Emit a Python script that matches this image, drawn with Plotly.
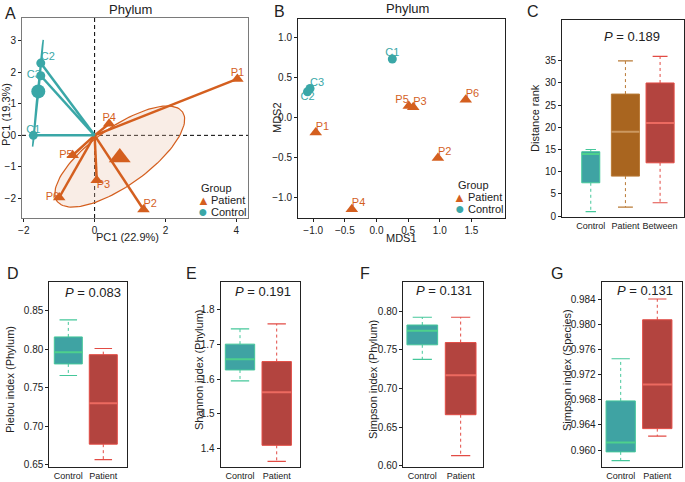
import numpy as np
import plotly.graph_objects as go

W, H = 685, 482
FONT = "Liberation Sans, Arial, sans-serif"
TEAL = "#3AA7A7"
ORANGE = "#D45F1F"

# ---------------- data ----------------
# Panel A (PCA)
pca_ctrl_labels = ["C1", "C2", "C3"]
pca_ctrl_x = [-1.73, -1.52, -1.52]
pca_ctrl_y = [0.0, 2.29, 1.89]
pca_pat_labels = ["P1", "P2", "P3", "P4", "P5", "P6"]
pca_pat_x = [4.03, 1.38, 0.06, 0.41, -0.62, -1.00]
pca_pat_y = [1.79, -2.35, -1.42, 0.37, -0.63, -1.97]

# Panel B (NMDS)
mds_ctrl_labels = ["C1", "C2", "C3"]
mds_ctrl_x = [0.25, -1.09, -1.05]
mds_ctrl_y = [0.73, 0.32, 0.36]
mds_pat_labels = ["P1", "P2", "P3", "P4", "P5", "P6"]
mds_pat_x = [-0.96, 0.97, 0.58, -0.39, 0.51, 1.41]
mds_pat_y = [-0.19, -0.51, 0.125, -1.15, 0.14, 0.22]

legend_groups = ["Patient", "Control"]

# Panel C (distance rank)
rank_groups = ["Control", "Patient", "Between"]
rank_lower = [1, 2, 3]
rank_q1 = [7.5, 9, 12]
rank_median = [14, 19, 21]
rank_q3 = [14.5, 27.5, 30]
rank_upper = [15, 35, 36]
rank_p = "0.189"

box_groups = ["Control", "Patient"]
# Panel D Pielou
pielou_lower = [0.766, 0.657]
pielou_q1 = [0.781, 0.677]
pielou_median = [0.796, 0.730]
pielou_q3 = [0.816, 0.793]
pielou_upper = [0.838, 0.801]
pielou_p = "0.083"
# Panel E Shannon
shannon_lower = [1.595, 1.364]
shannon_q1 = [1.626, 1.410]
shannon_median = [1.657, 1.562]
shannon_q3 = [1.700, 1.650]
shannon_upper = [1.744, 1.758]
shannon_p = "0.191"
# Panel F Simpson phylum
simp_lower = [0.7376, 0.613]
simp_q1 = [0.7564, 0.666]
simp_median = [0.7746, 0.717]
simp_q3 = [0.782, 0.7593]
simp_upper = [0.792, 0.792]
simp_p = "0.131"
# Panel G Simpson species
simps_lower = [0.9583, 0.9622]
simps_q1 = [0.9597, 0.9634]
simps_median = [0.9612, 0.9704]
simps_q3 = [0.9678, 0.9807]
simps_upper = [0.9745, 0.9840]
simps_p = "0.131"

# ---------------- helpers ----------------
def hdom(x0, x1):
    return [x0 / W, x1 / W]

def vdom(y0, y1):
    return [1 - y1 / H, 1 - y0 / H]

fig = go.Figure()

def axis_style(line="#222"):
    return dict(showline=True, mirror=True, linecolor=line, linewidth=1, automargin=False,
                ticks="outside", ticklen=3, tickcolor="#222", showgrid=False,
                zeroline=False, tickfont=dict(size=10, color="#222", family=FONT))

# ---------------- Panel A ----------------
SX, SY = 35.42, 31.55  # px per data unit (for ellipse aspect)

def ellipse(cx, cy, a, b, ang_deg, n=120):
    t = np.linspace(0, 2 * np.pi, n)
    th = np.deg2rad(ang_deg)
    px = a * np.cos(th) * np.cos(t) - b * np.sin(th) * np.sin(t)
    py = a * np.sin(th) * np.cos(t) + b * np.cos(th) * np.sin(t)
    return cx + px / SX, cy + py / SY

pcx, pcy = float(np.mean(pca_pat_x)), float(np.mean(pca_pat_y))
ccx, ccy = float(np.mean(pca_ctrl_x)), float(np.mean(pca_ctrl_y))

ex, ey = ellipse(pcx, pcy + 0.03, 77, 29, 35.5)
fig.add_trace(go.Scatter(x=ex, y=ey, mode="lines", fill="toself",
                         fillcolor="rgba(232,190,165,0.28)",
                         line=dict(color=ORANGE, width=1.2),
                         showlegend=False, hoverinfo="skip", xaxis="x", yaxis="y"))
cx_, cy_ = ellipse(ccx - 0.01, ccy - 0.06, 53.6, 0.6, 84.3)
fig.add_trace(go.Scatter(x=cx_, y=cy_, mode="lines",
                         line=dict(color=TEAL, width=1.5),
                         showlegend=False, hoverinfo="skip", xaxis="x", yaxis="y"))

def spokes(xs, ys):
    X, Y = [], []
    for a, b in zip(xs, ys):
        X += [0, a, None]
        Y += [0, b, None]
    return X, Y

sx, sy = spokes(pca_pat_x, pca_pat_y)
fig.add_trace(go.Scatter(x=sx, y=sy, mode="lines", line=dict(color=ORANGE, width=2.5),
                         showlegend=False, hoverinfo="skip", xaxis="x", yaxis="y"))
sx, sy = spokes(pca_ctrl_x, pca_ctrl_y)
fig.add_trace(go.Scatter(x=sx, y=sy, mode="lines", line=dict(color=TEAL, width=2.5),
                         showlegend=False, hoverinfo="skip", xaxis="x", yaxis="y"))

# centroids
fig.add_trace(go.Scatter(x=[pcx], y=[pcy], mode="markers",
                         marker=dict(symbol="triangle-up", size=19, color=ORANGE),
                         showlegend=False, hoverinfo="skip", xaxis="x", yaxis="y"))
fig.add_trace(go.Scatter(x=[ccx], y=[ccy], mode="markers",
                         marker=dict(symbol="circle", size=14, color=TEAL),
                         showlegend=False, hoverinfo="skip", xaxis="x", yaxis="y"))
# points
fig.add_trace(go.Scatter(x=pca_pat_x, y=pca_pat_y, mode="markers", name="Patient",
                         marker=dict(symbol="triangle-up", size=11, color=ORANGE),
                         showlegend=False, xaxis="x", yaxis="y"))
fig.add_trace(go.Scatter(x=pca_ctrl_x, y=pca_ctrl_y, mode="markers", name="Control",
                         marker=dict(symbol="circle", size=9, color=TEAL),
                         showlegend=False, xaxis="x", yaxis="y"))
pos_pat_a = ["top center", "top right", "bottom right", "top center", "middle left", "middle left"]
pos_ctrl_a = ["top center", "top right", "middle left"]
fig.add_trace(go.Scatter(x=pca_pat_x, y=pca_pat_y, mode="text", text=pca_pat_labels,
                         textposition=pos_pat_a, textfont=dict(color=ORANGE, size=11, family=FONT),
                         showlegend=False, hoverinfo="skip", xaxis="x", yaxis="y"))
fig.add_trace(go.Scatter(x=pca_ctrl_x, y=pca_ctrl_y, mode="text", text=pca_ctrl_labels,
                         textposition=pos_ctrl_a, textfont=dict(color=TEAL, size=11, family=FONT),
                         showlegend=False, hoverinfo="skip", xaxis="x", yaxis="y"))

# ---------------- Panel B ----------------
fig.add_trace(go.Scatter(x=mds_pat_x, y=mds_pat_y, mode="markers", name="Patient",
                         marker=dict(symbol="triangle-up", size=11, color=ORANGE),
                         showlegend=False, xaxis="x2", yaxis="y2"))
fig.add_trace(go.Scatter(x=mds_ctrl_x, y=mds_ctrl_y, mode="markers", name="Control",
                         marker=dict(symbol="circle", size=9, color=TEAL),
                         showlegend=False, xaxis="x2", yaxis="y2"))
pos_pat_b = ["top right", "top right", "top right", "top right", "top left", "top right"]
pos_ctrl_b = ["top center", "bottom center", "top right"]
fig.add_trace(go.Scatter(x=mds_pat_x, y=mds_pat_y, mode="text", text=mds_pat_labels,
                         textposition=pos_pat_b, textfont=dict(color=ORANGE, size=11, family=FONT),
                         showlegend=False, hoverinfo="skip", xaxis="x2", yaxis="y2"))
fig.add_trace(go.Scatter(x=mds_ctrl_x, y=mds_ctrl_y, mode="text", text=mds_ctrl_labels,
                         textposition=pos_ctrl_b, textfont=dict(color=TEAL, size=11, family=FONT),
                         showlegend=False, hoverinfo="skip", xaxis="x2", yaxis="y2"))

# ---------------- Box panels ----------------
def add_box(xa, ya, i, lo, q1, med, q3, hi, w, fill, edge, medc, whc, capw):
    common = dict(xaxis=xa, yaxis=ya, showlegend=False, hoverinfo="skip")
    fig.add_trace(go.Bar(x=[i], y=[q3 - q1], base=[q1], width=[w],
                         marker=dict(color=fill, line=dict(color=edge, width=1)), **common))
    fig.add_trace(go.Scatter(x=[i, i, None, i, i], y=[q3, hi, None, q1, lo], mode="lines",
                             line=dict(color=whc, width=1, dash="3px,3px"), **common))
    fig.add_trace(go.Scatter(x=[i - capw / 2, i + capw / 2, None, i - capw / 2, i + capw / 2],
                             y=[hi, hi, None, lo, lo], mode="lines",
                             line=dict(color=edge, width=1.2), **common))
    fig.add_trace(go.Scatter(x=[i - w / 2, i + w / 2], y=[med, med], mode="lines",
                             line=dict(color=medc, width=2), **common))

CT_FILL, CT_EDGE, CT_MED = "#3FA3A3", "#45C79A", "#4ED08C"
PT_FILL, PT_EDGE, PT_MED = "#B3443F", "#E24B44", "#EC6A60"
BR_FILL, BR_EDGE, BR_MED = "#A9651F", "#B97A35", "#CC9860"

# Panel C
c_styles = [(CT_FILL, CT_EDGE, CT_MED, 0.52, 0.3),
            (BR_FILL, BR_EDGE, BR_MED, 0.81, 0.43),
            (PT_FILL, PT_EDGE, PT_MED, 0.81, 0.43)]
for i in range(len(rank_groups)):
    f, e, m, w, cw = c_styles[i]
    add_box("x3", "y3", i, rank_lower[i], rank_q1[i], rank_median[i], rank_q3[i],
            rank_upper[i], w, f, e, m, e, cw)

panels = [
    ("x4", "y4", pielou_lower, pielou_q1, pielou_median, pielou_q3, pielou_upper),
    ("x5", "y5", shannon_lower, shannon_q1, shannon_median, shannon_q3, shannon_upper),
    ("x6", "y6", simp_lower, simp_q1, simp_median, simp_q3, simp_upper),
    ("x7", "y7", simps_lower, simps_q1, simps_median, simps_q3, simps_upper),
]
bstyles = [(CT_FILL, CT_EDGE, CT_MED), (PT_FILL, PT_EDGE, PT_MED)]
for xa, ya, lo, q1, md, q3, hi in panels:
    for i in range(len(box_groups)):
        f, e, m = bstyles[i]
        add_box(xa, ya, i, lo[i], q1[i], md[i], q3[i], hi[i], 0.8, f, e, m, e, 0.5)

# ---------------- layout ----------------
lay = dict(width=W, height=H, margin=dict(l=0, r=0, t=0, b=0, autoexpand=False),
           paper_bgcolor="white", plot_bgcolor="white", barmode="overlay", showlegend=False,
           font=dict(family=FONT, color="#222"))

xtickfont = dict(size=9, color="#222", family=FONT)
lay["xaxis"] = dict(axis_style("#7a7a7a"), domain=hdom(22, 248), range=[-2.05, 4.33],
                    tickvals=[-2, 0, 2, 4], anchor="y")
lay["yaxis"] = dict(axis_style("#7a7a7a"), domain=vdom(18, 218), range=[-2.62, 3.72],
                    tickvals=[-2, -1, 0, 1, 2, 3], anchor="x")
lay["xaxis2"] = dict(axis_style(), domain=hdom(298, 505), range=[-1.24, 2.03],
                     tickvals=[-1.0, -0.5, 0.0, 0.5, 1.0, 1.5], tickformat=".1f", anchor="y2")
lay["yaxis2"] = dict(axis_style(), domain=vdom(19, 218), range=[-1.26, 1.23],
                     tickvals=[-1.0, -0.5, 0.0, 0.5, 1.0], tickformat=".1f", anchor="x2")
lay["xaxis3"] = dict(axis_style(), domain=hdom(562, 684), range=[-0.83, 2.69],
                     tickvals=list(range(len(rank_groups))), ticktext=rank_groups, ticks="",
                     ticklen=0, tickangle=0, tickfont=xtickfont, anchor="y3")
lay["yaxis3"] = dict(axis_style(), domain=vdom(20, 216.7), range=[-0.15, 44.2],
                     tickvals=[0, 5, 10, 15, 20, 25, 30, 35], anchor="x3")

box_axes = [
    ("4", (49.3, 126.7), [-0.543, 1.669], [0.647, 0.8876], [0.65, 0.70, 0.75, 0.80, 0.85], ".2f"),
    ("5", (220.7, 300), [-0.526, 1.635], [1.347, 1.879], [1.4, 1.5, 1.6, 1.7, 1.8], ".1f"),
    ("6", (403.3, 483.3), [-0.495, 1.59], [0.598, 0.838], [0.60, 0.65, 0.70, 0.75, 0.80], ".2f"),
    ("7", (601.7, 681.7), [-0.519, 1.667], [0.95725, 0.98675],
     [0.960, 0.964, 0.968, 0.972, 0.976, 0.980, 0.984], ".3f"),
]
for k, (x0, x1), xr, yr, tv, tf in box_axes:
    lay["xaxis" + k] = dict(axis_style(), domain=hdom(x0, x1), range=xr,
                            tickvals=[0, 1], ticktext=box_groups, ticks="", ticklen=0,
                            tickangle=0, tickfont=xtickfont, anchor="y" + k)
    lay["yaxis" + k] = dict(axis_style(), domain=vdom(281.7, 467.3), range=yr,
                            tickvals=tv, tickformat=tf, anchor="x" + k)

ann = []
def txt(x, y, s, size=11, angle=0, color="#222", xanchor="center"):
    ann.append(dict(x=x / W, y=1 - y / H, xref="paper", yref="paper", text=s, showarrow=False,
                    font=dict(size=size, family=FONT, color=color), textangle=angle,
                    xanchor=xanchor, yanchor="middle"))

# legends (A and B), drawn as text
for lx, ly in [(200, 188), (457, 185)]:
    txt(lx - 1, ly, "Group", size=11, xanchor="left")
    txt(lx + 3, ly + 12, "▲", size=13, color=ORANGE)
    txt(lx + 9, ly + 12, legend_groups[0], size=11, xanchor="left")
    txt(lx + 3, ly + 23.5, "●", size=16, color=TEAL)
    txt(lx + 9, ly + 23.5, legend_groups[1], size=11, xanchor="left")

# panel letters
for L, x, y in [("A", 10, 13), ("B", 279, 11), ("C", 533, 11), ("D", 13, 273),
                ("E", 191, 273), ("F", 365, 273), ("G", 557, 273)]:
    txt(x, y, L, size=16)
txt(130, 9, "Phylum", size=13)
txt(407, 8, "Phylum", size=13)
txt(128, 237, "PC1 (22.9%)", size=11)
txt(6, 115, "PC1 (19.3%)", size=11, angle=-90)
txt(401, 238, "MDS1", size=11)
txt(277, 118, "MDS2", size=11, angle=-90)
txt(535, 118, "Distance rank", size=11, angle=-90)
txt(632, 37, "<i>P</i> = " + rank_p, size=13)
txt(10, 380, "Pielou index (Phylum)", size=11, angle=-90)
txt(199, 370, "Shannon index (Phylum)", size=11, angle=-90)
txt(373, 380, "Simpson index (Phylum)", size=11, angle=-90)
txt(567, 370, "Simpson index (Species)", size=11, angle=-90)
txt(93, 292, "<i>P</i> = " + pielou_p, size=13)
txt(263, 291, "<i>P</i> = " + shannon_p, size=13)
txt(444, 290, "<i>P</i> = " + simp_p, size=13)
txt(645, 290, "<i>P</i> = " + simps_p, size=13)
lay["annotations"] = ann

lay["shapes"] = [
    dict(type="line", xref="x", yref="y domain", x0=0, x1=0, y0=0, y1=1,
         line=dict(color="black", width=1, dash="4px,3px"), layer="below"),
    dict(type="line", xref="x domain", yref="y", x0=0, x1=1, y0=0, y1=0,
         line=dict(color="black", width=1, dash="4px,3px"), layer="below"),
]

fig.update_layout(**lay)
fig.write_html("out.html", config={"displayModeBar": False},
               post_script="document.body.style.margin='0';document.body.style.padding='0';"
                           "document.body.style.overflow='hidden';")
